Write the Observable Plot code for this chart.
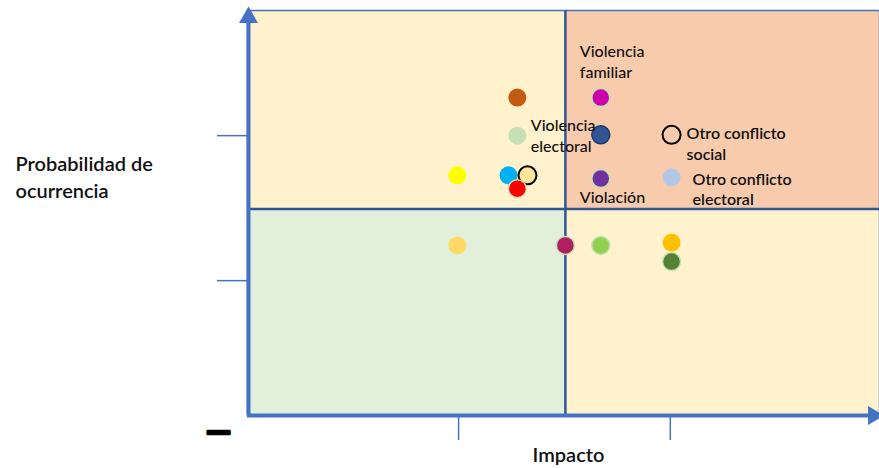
<!DOCTYPE html>
<html><head><meta charset="utf-8">
<script src="https://cdn.jsdelivr.net/npm/d3@7"></script>
<script src="https://cdn.jsdelivr.net/npm/@observablehq/plot@0.6"></script>
<style>
body{margin:0;background:#fff;}
svg{display:block;font-family:Lato,"Open Sans",sans-serif;}
</style>
</head><body><div id="chart"></div>
<script>
// Riesgos (puntos)
const riesgos = ["Riesgo A","Violencia familiar","Riesgo C","Violencia electoral","Otro conflicto social",
  "Riesgo F","Riesgo G","Riesgo H","Riesgo I","Violación","Otro conflicto electoral",
  "Riesgo L","Riesgo M","Riesgo N","Riesgo O","Riesgo P"];
const impacto =      [4.27, 5.59, 4.27, 5.59, 6.71, 3.32, 4.13, 4.43, 4.27, 5.59, 6.71, 3.32, 5.03, 5.59, 6.71, 6.71];
const probabilidad = [7.85, 7.85, 6.91, 6.93, 6.93, 5.93, 5.93, 5.93, 5.60, 5.85, 5.88, 4.20, 4.20, 4.20, 4.27, 3.80];

// Estilos (separados de los datos)
const relleno = ["#C55A11","#CC00AA","#C5E0B4","#2F5597","none","#FFFF00","#00B0F0","#FFE699",
  "#FF0000","#7030A0","#B4C7E7","#FFD966","#B01F5F","#92D050","#FFC000","#548235"];
const borde = ["none","#C5E0B4","none","#203864","#000000","none","none","#000000",
  "#C5E0B4","#C5E0B4","none","none","#C5E0B4","#C5E0B4","none","#C5E0B4"];

// Escalas
const xDomain = [0, 10], yDomain = [0, 10];
const xMid = 5.03, yMid = 5.1;
const xTicks = [3.34, 6.69];
const yTicks = [3.33, 6.91];

const niveles = ["medio","alto","bajo","medio"];
const nivelColor = {alto:"#F8CBAD", medio:"#FFF2CC", bajo:"#E2EFDA"};
const quadrantes = [
  {x1:xDomain[0], x2:xMid, y1:yMid, y2:yDomain[1]},
  {x1:xMid, x2:xDomain[1], y1:yMid, y2:yDomain[1]},
  {x1:xDomain[0], x2:xMid, y1:yDomain[0], y2:yMid},
  {x1:xMid, x2:xDomain[1], y1:yDomain[0], y2:yMid}
].map((q,i)=>({...q, fill: nivelColor[niveles[i]]}));

const idx = riesgos.map((_, i) => i);
const at = name => [riesgos.indexOf(name)];
const lbl = (name, text, dx, dy, weight) => Plot.text(at(name), {
  x: i => impacto[i], y: i => probabilidad[i], text: () => text,
  textAnchor: "start", lineAnchor: "middle", lineHeight: 1.3,
  dx, dy, fontSize: 16, fill: "#111", fontWeight: weight
});

const chart = Plot.plot({
  width: 879, height: 468,
  marginLeft: 247, marginRight: 0, marginTop: 10, marginBottom: 53,
  x: {domain: xDomain, axis: null},
  y: {domain: yDomain, axis: null},
  color: {type: "identity"},
  style: {fontFamily: "Lato, 'Open Sans', sans-serif", background: "#fff", overflow: "visible"},
  marks: [
    Plot.rect(quadrantes, {x1:"x1", x2:"x2", y1:"y1", y2:"y2", fill:"fill"}),
    Plot.frame({stroke: "#4472C4", strokeWidth: 1.5}),
    Plot.ruleX([xMid], {y1: yDomain[0], y2: yDomain[1], stroke: "#2F5597", strokeWidth: 2.5}),
    Plot.ruleY([yMid], {x1: xDomain[0], x2: xDomain[1], stroke: "#2F5597", strokeWidth: 2.5}),
    Plot.axisY({ticks: yTicks, tickSize: 30, tickFormat: () => "", stroke: "#4472C4", strokeWidth: 1.5, label: null}),
    Plot.axisX({ticks: xTicks, tickSize: 25, tickFormat: () => "", stroke: "#4472C4", strokeWidth: 1.5, label: null}),
    // ejes con flechas
    Plot.ruleX([xDomain[0]], {y1: yDomain[0], y2: yDomain[1], stroke: "#4472C4", strokeWidth: 4, dx: 1}),
    Plot.ruleY([yDomain[0]], {x1: xDomain[0], x2: xDomain[1], stroke: "#4472C4", strokeWidth: 4}),
    Plot.dot([0], {x: () => xDomain[0], y: () => yDomain[1], symbol: "triangle", r: 7, fill: "#4472C4", dy: 7, dx: 1}),
    Plot.dot([0], {x: () => xDomain[1], y: () => yDomain[0], symbol: "triangle", r: 7, fill: "#4472C4", rotate: 90, dx: -6}),
    // puntos
    Plot.dot(idx, {x: i => impacto[i], y: i => probabilidad[i], r: 9,
      fill: i => relleno[i], stroke: i => borde[i], strokeWidth: i => (borde[i] === "#000000" ? 2 : 1.5)}),
    // etiquetas
    lbl("Violencia familiar", "Violencia\nfamiliar", -21, -37, 500),
    lbl("Violencia electoral", "Violencia\nelectoral", -70, 0, 500),
    lbl("Violación", "Violación", -21, 18, 500),
    lbl("Otro conflicto social", "Otro conflicto\nsocial", 15, 8, 600),
    lbl("Otro conflicto electoral", "Otro conflicto\nelectoral", 21, 11, 600),
    // títulos de ejes
    Plot.text(["Probabilidad de\nocurrencia"], {frameAnchor: "left", textAnchor: "start", lineAnchor: "middle",
      dx: -232, dy: -37, fontSize: 20, fontWeight: 600, lineHeight: 1.35, fill: "#111"}),
    Plot.text(["Impacto"], {frameAnchor: "bottom", textAnchor: "middle", lineAnchor: "middle",
      dx: 5, dy: 40, fontSize: 20, fontWeight: 600, fill: "#111"}),
    Plot.text(["—"], {frameAnchor: "bottom-left", textAnchor: "middle", lineAnchor: "middle",
      dx: -29, dy: 16, fontSize: 32, fontWeight: 900, fill: "#000", stroke: "#000", strokeWidth: 2.5})
  ]
});
document.getElementById("chart").appendChild(chart);
</script>
</body></html>
